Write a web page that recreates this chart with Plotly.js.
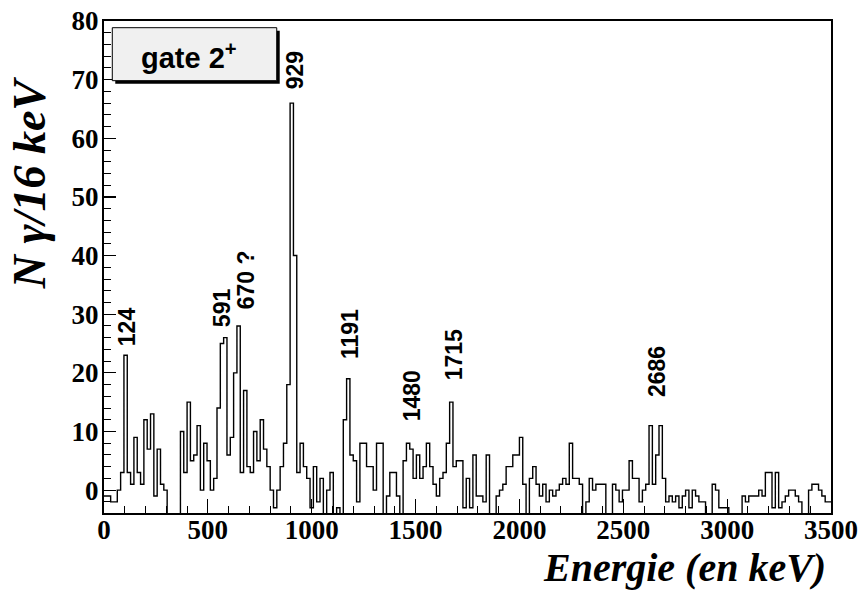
<!DOCTYPE html>
<html><head><meta charset="utf-8">
<script src="https://cdn.plot.ly/plotly-3.0.1.min.js"></script>
<style>body{margin:0;background:#fff}#c{width:864px;height:592px}</style>
</head><body><div id="c"></div>
<script>
// Histogram: counts per 16 keV bin, bins start at 0 keV
const binWidth = 16;
const counts = [
 -1,-1,-2,-2,0,3,23,3,1,9,
 3,1,12,7,13,-1,7,1,0,-5,
 -5,-5,-5,10,3,15,5,6,11,0,
 8,5,0,2,14,25,26,6,9,20,
 28,3,17,4,3,10,5,12,7,4,
 0,-3,0,4,8,18,66,40,3,8,
 4,2,-3,4,-2,2,-5,0,3,-5,
 -3,-5,12,19,6,5,-2,8,8,4,
 4,0,8,8,-5,-1,3,3,-1,-5,
 5,8,7,2,6,2,4,8,4,1,
 -1,2,3,8,15,4,5,5,-3,2,
 -3,6,-1,-1,-2,6,-5,-5,-1,0,
 1,4,4,6,6,9,1,-5,2,4,
 1,-1,1,-2,0,-1,0,1,2,1,
 8,2,2,1,-5,-2,2,0,1,1,
 1,-5,-5,1,0,-2,0,0,5,2,
 2,-2,0,1,11,1,6,11,2,-2,
 -1,-2,-1,-3,-1,0,-3,0,-1,-2,
 -2,-5,-5,1,0,-3,-3,-3,-5,-5,
 -5,-5,-1,-2,-1,-1,-1,0,-1,3,
 3,-3,3,-3,-2,-1,0,0,-1,-2,
 -5,-5,0,1,1,0,-1,-2,-2
];
const peakLabels = ["124","591","670 ?","929","1191","1480","1715","2686"];
const labelX = [111, 568, 684, 920, 1184, 1483, 1685, 2662];
const labelY = [27.8, 31.2, 35.8, 71.6, 26.6, 16.0, 23.0, 20.3];
const xTickVals = [0,500,1000,1500,2000,2500,3000,3500];
const yTickVals = [0,10,20,30,40,50,60,70,80];

const xs = counts.map((_, i) => i * binWidth);
xs.push(counts.length * binWidth);
const ys = counts.slice();
ys.push(counts[counts.length - 1]);

const trace = {
  x: xs, y: ys, type: 'scatter', mode: 'lines',
  line: {shape: 'hv', color: '#000', width: 1.4},
  hoverinfo: 'skip', showlegend: false
};

const tickFont = {family: 'Liberation Serif, Times New Roman, serif', size: 27, color: '#000', weight: 'bold'};
const annots = peakLabels.map((t, i) => ({
  text: t, x: labelX[i], y: labelY[i], xref: 'x', yref: 'y',
  textangle: -90, showarrow: false, xanchor: 'center', yanchor: 'middle',
  font: {family: 'Liberation Sans, Arial, sans-serif', size: 23, color: '#000', weight: 'bold'}
}));
annots.push({
  text: 'gate 2<sup>+</sup>', xref: 'paper', yref: 'paper', x: 0.117, y: 0.928,
  showarrow: false, xanchor: 'center', yanchor: 'middle',
  font: {family: 'Liberation Sans, Arial, sans-serif', size: 29, color: '#000', weight: 'bold'}
});
annots.push({
  text: 'N γ/16 keV', xref: 'paper', yref: 'paper', x: -0.102, y: 0.672,
  textangle: -90, showarrow: false, xanchor: 'center', yanchor: 'middle',
  font: {family: 'Liberation Serif, Times New Roman, serif', size: 46, color: '#000', weight: 'bold', style: 'italic'}
});
annots.push({
  text: 'Energie (en keV)', xref: 'paper', yref: 'paper', x: 0.9959, y: -0.11,
  showarrow: false, xanchor: 'right', yanchor: 'middle',
  font: {family: 'Liberation Serif, Times New Roman, serif', size: 40, color: '#000', weight: 'bold', style: 'italic'}
});

const layout = {
  width: 864, height: 592,
  margin: {l: 104, r: 33, t: 21, b: 79},
  paper_bgcolor: '#fff', plot_bgcolor: '#fff',
  xaxis: {
    range: [0, 3500], tickvals: xTickVals, ticktext: xTickVals.map(String),
    ticks: 'inside', ticklen: 14, tickwidth: 1.2, tickcolor: '#000',
    ticklabelstandoff: -8,
    minor: {dtick: 100, ticks: 'inside', ticklen: 7, tickwidth: 1, tickcolor: '#000'},
    showline: true, linecolor: '#000', linewidth: 2, mirror: true,
    showgrid: false, zeroline: false, tickfont: tickFont, fixedrange: true
  },
  yaxis: {
    range: [-3.9, 80], tickvals: yTickVals, ticktext: yTickVals.map(String),
    ticks: 'inside', ticklen: 12, tickwidth: 1.2, tickcolor: '#000',
    ticklabelstandoff: -2,
    minor: {dtick: 2, ticks: 'inside', ticklen: 7, tickwidth: 1, tickcolor: '#000'},
    showline: true, linecolor: '#000', linewidth: 2, mirror: true,
    showgrid: false, zeroline: false, tickfont: tickFont, fixedrange: true
  },
  shapes: [
    {type: 'rect', xref: 'paper', yref: 'paper', x0: 0.0155, x1: 0.2417, y0: 0.8726, y1: 0.9803,
     fillcolor: '#000', line: {width: 0}},
    {type: 'rect', xref: 'paper', yref: 'paper', x0: 0.0114, x1: 0.2376, y0: 0.8787, y1: 0.9864,
     fillcolor: '#f0f0f0', line: {color: '#000', width: 1}}
  ],
  annotations: annots
};

Plotly.newPlot('c', [trace], layout, {displayModeBar: false, staticPlot: true});
</script>
</body></html>
